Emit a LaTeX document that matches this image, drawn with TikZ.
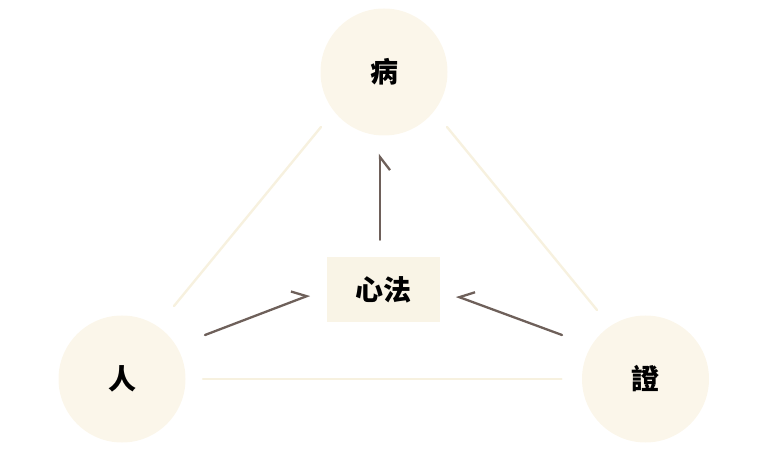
\documentclass[tikz,border=0pt]{standalone}
\usepackage{fontspec}
\newfontfamily\cjk{Noto Sans CJK TC}
\usetikzlibrary{arrows.meta}
\definecolor{cream}{HTML}{FBF6EA}
\definecolor{boxfill}{HTML}{F9F4E6}
\definecolor{paleline}{HTML}{F7F1DF}
\definecolor{arrowc}{HTML}{6E605A}
\tikzset{
  circ/.style={circle, fill=cream, draw=none, minimum size=127pt, inner sep=0pt,
    font=\cjk\bfseries\fontsize{28}{32}\selectfont},
  xfbox/.style={rectangle, fill=boxfill, draw=none, minimum width=113pt, minimum height=65pt,
    inner sep=0pt, font=\cjk\bfseries\fontsize{28}{32}\selectfont},
  pale/.style={draw=paleline, line width=2.4pt, line cap=round},
  arr/.style={draw=arrowc, line width=2.3pt, line cap=round},
  barbR/.style={-{Straight Barb[harpoon, swap, length=13pt, width=20pt, line width=2.3pt]}},
  barbL/.style={-{Straight Barb[harpoon, length=13pt, width=20pt, line width=2.3pt]}}
}
\begin{document}
\begin{tikzpicture}[x=1pt, y=-1pt]
\useasboundingbox (0,0) rectangle (769,457);
\node[circ] (bing) at (384,72) {病};
\node[circ] (ren) at (122,379) {人};
\node[circ] (zheng) at (645.5,379) {證};
\node[xfbox] (xf) at (383.5,289.5) {心法};
\draw[pale] ([shift={(52,-73)}]ren.center) -- ([shift={(-63,55)}]bing.center);
\draw[pale] ([shift={(63,55)}]bing.center) -- ([shift={(-48.5,-69)}]zheng.center);
\draw[pale] ([shift={(81,0)}]ren.center) -- ([shift={(-84,0)}]zheng.center);
\draw[arr, barbR] ([shift={(-3.5,-17)}]xf.north) -- ([shift={(-4,18)}]bing.south);
\draw[arr, barbL] ([shift={(83,-44)}]ren.center) -- ([shift={(-17,5.5)}]xf.west);
\draw[arr, barbR] ([shift={(-83.5,-44)}]zheng.center) -- ([shift={(16,6.5)}]xf.east);
\end{tikzpicture}
\end{document}
